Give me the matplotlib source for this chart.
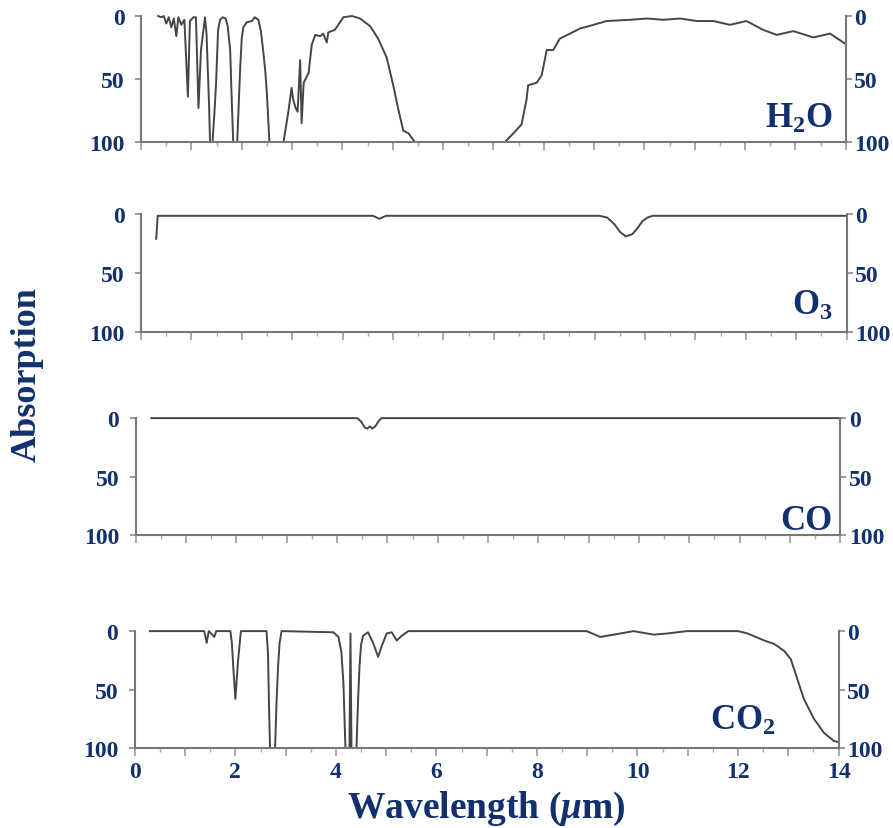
import matplotlib
matplotlib.use('Agg')
import matplotlib.pyplot as plt
from matplotlib.ticker import MultipleLocator, FuncFormatter

# absorption spectra (wavelength in um, absorption in %)
h2o_x = [0.34, 0.40, 0.45, 0.50, 0.55, 0.60, 0.65, 0.70, 0.74, 0.80, 0.86, 0.93, 0.97, 1.04,
         1.09, 1.14, 1.19, 1.27, 1.30, 1.35, 1.37, 1.42, 1.46, 1.49, 1.53, 1.57, 1.62, 1.68,
         1.72, 1.77, 1.80, 1.83, 1.91, 1.94, 1.97, 2.00, 2.03, 2.10, 2.20, 2.26, 2.33, 2.38,
         2.43, 2.47, 2.50, 2.55, 2.83, 2.93, 2.99, 3.02, 3.07,
         3.11, 3.16, 3.19, 3.23, 3.33, 3.39, 3.46, 3.56, 3.62, 3.69, 3.72, 3.85, 4.02, 4.19,
         4.35, 4.55, 4.71, 4.88, 5.01, 5.11, 5.21, 5.31, 5.44, 7.23, 7.40, 7.56, 7.66, 7.69,
         7.86, 7.96, 8.06, 8.19, 8.32, 8.52, 8.72, 8.99, 9.25, 9.72, 10.05, 10.38, 10.71, 11.04,
         11.37, 11.70, 12.03, 12.36, 12.63, 12.96, 13.36, 13.69, 13.99]
h2o_y = [0, 1, 0, 6, 1, 9, 2, 16, 1, 7, 3, 64, 4, 1,
         1, 73, 27, 1, 14, 70, 100, 100, 75, 53, 11, 3, 1, 2,
         8, 27, 65, 100, 100, 70, 40, 18, 9, 5, 4, 1, 3, 12,
         29, 45, 62, 100, 100, 75, 57, 66, 73,
         76, 35, 85, 53, 45, 23, 15, 16, 14, 21, 13, 11, 1, 0,
         2, 8, 18, 33, 55, 74, 91, 93, 100, 100, 93, 86, 66, 55,
         53, 47, 27, 27, 18, 14, 10, 7, 4, 3, 2, 3, 2, 4,
         4, 7, 4, 11, 15, 12, 17, 14, 22]

o3_x = [0.30, 0.33, 0.6, 4.60, 4.73, 4.86, 9.10, 9.25, 9.40, 9.50, 9.62, 9.75, 9.85, 9.95,
        10.05, 10.15, 14.0]
o3_y = [21, 1.5, 1.5, 1.5, 4, 1.5, 1.5, 3, 9, 15, 19, 17, 12, 6,
        3, 1.5, 1.5]

co_x = [0.31, 4.40, 4.48, 4.55, 4.60, 4.65, 4.70, 4.76, 4.82, 4.88, 14.0]
co_y = [0, 0, 3, 8, 9, 7, 9, 7, 3, 0, 0]

co2_x = [0.30, 1.38, 1.43, 1.47, 1.54, 1.58, 1.62, 1.90, 1.93, 1.96, 2.00, 2.05, 2.11, 2.62,
         2.65, 2.67, 2.69, 2.79, 2.82, 2.85, 2.88, 2.92, 3.95, 4.05, 4.11, 4.15, 4.19, 4.27,
         4.29, 4.31, 4.41, 4.44, 4.47, 4.50, 4.54,
         4.64, 4.74, 4.84, 4.91, 5.01, 5.11, 5.21, 5.31, 5.44, 8.99, 9.26, 9.53, 9.92, 10.32,
         10.60, 10.98, 11.51, 12.00, 12.19, 12.52, 12.72, 12.92, 13.05, 13.18, 13.31, 13.51,
         13.71, 13.91, 14.0]
co2_y = [0, 0, 10, 0, 3, 5, 0, 0, 10, 32, 58, 27, 0, 0,
         20, 66, 100, 100, 60, 30, 10, 0, 1, 5, 18, 45, 100, 100,
         2, 100, 100, 60, 30, 12, 4,
         1, 10, 22, 13, 2, 1, 8, 4, 0, 0, 5, 3, 0, 3,
         2, 0, 0, 0, 2, 8, 11, 17, 24, 41, 58, 75,
         87, 94, 95]

gas_labels = ['H$_2$O', 'O$_3$', 'CO', 'CO$_2$']
y_ticks = [0, 50, 100]

navy = '#12306e'
plt.rcParams['font.family'] = ['Liberation Serif', 'DejaVu Serif']
plt.rcParams['font.weight'] = 'bold'
plt.rcParams['mathtext.fontset'] = 'custom'
plt.rcParams['mathtext.rm'] = 'Liberation Serif:bold'
plt.rcParams['mathtext.it'] = 'Liberation Serif:bold:italic'
plt.rcParams['mathtext.bf'] = 'Liberation Serif:bold'

fig = plt.figure(figsize=(8.93, 8.29), dpi=100)

# axes rectangles: left, bottom, width, height (figure fraction)
rects = [[0.158, 0.8275, 0.789, 0.152],
         [0.158, 0.5983, 0.790, 0.1423],
         [0.152, 0.3534, 0.789, 0.141],
         [0.151, 0.0965, 0.788, 0.141]]
label_pos = [(0.982, 0.12), (0.981, 0.153), (0.989, 0.05), (0.91, 0.16)]
series = [(h2o_x, h2o_y), (o3_x, o3_y), (co_x, co_y), (co2_x, co2_y)]

for i in range(4):
    ax = fig.add_axes(rects[i])
    xs, ys = series[i]
    ax.plot(xs, ys, color='#454545', lw=1.4, clip_on=False)
    ax.set_xlim(0, 14)
    ax.set_ylim(100, 0)
    for s in ['top', 'right']:
        ax.spines[s].set_visible(False)
    for s in ['left', 'bottom']:
        ax.spines[s].set_color('#777777')
        ax.spines[s].set_linewidth(1.5)
    ax.set_yticks(y_ticks)
    ax.tick_params(axis='y', labelsize=17, labelcolor=navy, color='#888888',
                   length=4, width=1.2, pad=8)
    ax.xaxis.set_major_locator(MultipleLocator(1))
    ax.xaxis.set_minor_locator(MultipleLocator(0.5))
    ax.tick_params(axis='x', which='major', length=6, width=1.2, color='#999999')
    ax.tick_params(axis='x', which='minor', length=3, width=1, color='#aaaaaa')
    if i == 3:
        ax.xaxis.set_major_formatter(FuncFormatter(lambda v, p: '%d' % v if int(v) % 2 == 0 else ''))
        ax.tick_params(axis='x', labelsize=17, labelcolor=navy, pad=3)
    else:
        ax.tick_params(axis='x', labelbottom=False)

    # right side scale, labels closer to the spine
    ax2 = ax.twinx()
    ax2.set_ylim(100, 0)
    ax2.set_yticks(y_ticks)
    for s in ['top', 'left', 'bottom']:
        ax2.spines[s].set_visible(False)
    ax2.spines['right'].set_color('#777777')
    ax2.spines['right'].set_linewidth(1.5)
    ax2.tick_params(axis='y', labelsize=17, labelcolor=navy, color='#888888',
                    length=4, width=1.2, pad=2)

    ax.text(label_pos[i][0], label_pos[i][1], gas_labels[i], transform=ax.transAxes,
            ha='right', va='baseline', fontsize=25, color=navy, fontweight='bold')

fig.text(0.03, 0.548, 'Absorption', rotation=90, ha='center', va='center',
         fontsize=26, color=navy, fontweight='bold')
fig.text(0.545, 0.0133, 'Wavelength ($\\mu$m)', ha='center', va='baseline',
         fontsize=27, color=navy, fontweight='bold')

plt.savefig('out.png', dpi=100)
